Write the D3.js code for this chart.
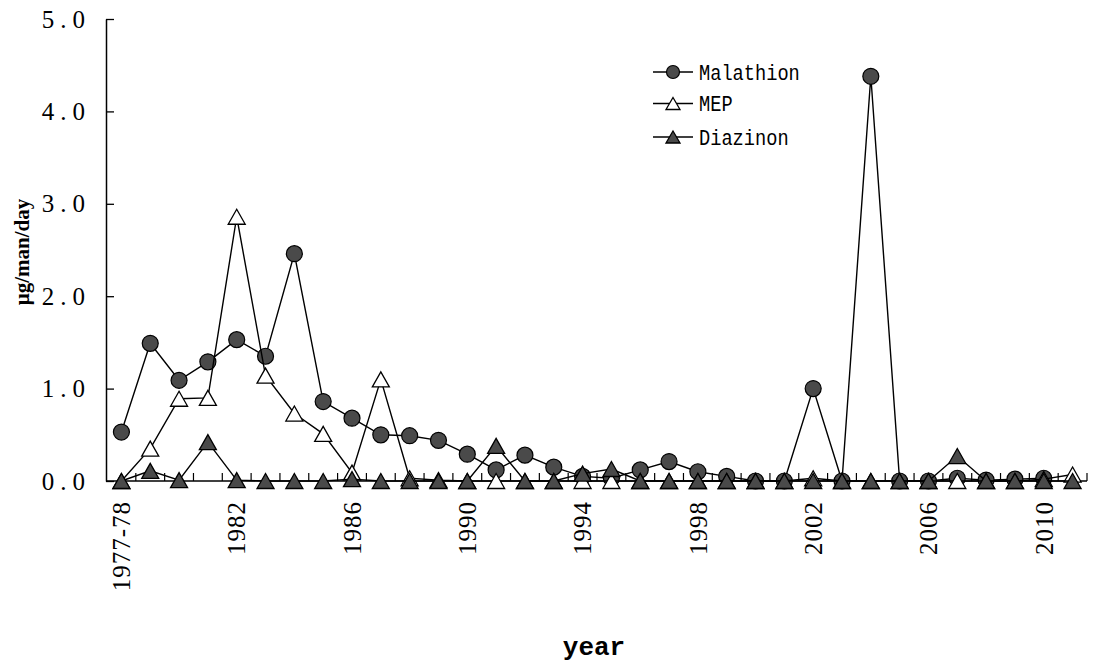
<!DOCTYPE html>
<html>
<head>
<meta charset="utf-8">
<script src="https://cdn.jsdelivr.net/npm/d3@7"></script>
<style>
  html, body { margin: 0; padding: 0; background: #fff; }
  svg { display: block; }
</style>
</head>
<body>
<svg id="chart" width="1095" height="666"></svg>
<script>
// ---- data ----
const categories = ["1977-78","1979","1980","1981","1982","1983","1984","1985","1986","1987",
  "1988","1989","1990","1991","1992","1993","1994","1995","1996","1997","1998","1999","2000",
  "2001","2002","2003","2004","2005","2006","2007","2008","2009","2010","2011"];
const tickLabels = ["1977-78","1982","1986","1990","1994","1998","2002","2006","2010"];
const yTicks = [0, 1, 2, 3, 4, 5];
const malathion = [0.53,1.49,1.09,1.29,1.53,1.35,2.46,0.86,0.68,0.50,0.49,0.44,0.29,0.12,0.28,0.15,
  0.05,0.03,0.12,0.21,0.10,0.05,0.0,0.0,1.0,0.0,4.38,0.0,0.0,0.03,0.01,0.02,0.03,null];
const mep = [0.0,0.35,0.89,0.90,2.86,1.14,0.73,0.51,0.09,1.10,0.03,0.01,0.0,0.0,0.0,0.0,
  0.0,0.0,0.0,0.0,0.0,0.0,0.0,0.0,0.03,0.0,0.0,0.0,0.0,0.0,0.0,0.0,0.02,0.07];
const diazinon = [0.0,0.11,0.01,0.42,0.01,0.0,0.0,0.0,0.02,0.0,0.0,0.0,0.0,0.38,0.0,0.0,
  0.08,0.13,0.0,0.0,0.0,0.0,0.0,0.0,0.0,0.0,0.0,0.0,0.0,0.27,0.0,0.0,0.0,0.0];
const seriesNames = ["Malathion","MEP","Diazinon"];

// ---- chart ----
const svg = d3.select("#chart");
svg.append("rect").attr("width",1095).attr("height",666).attr("fill","#fff");

const x = d3.scaleBand().domain(categories).range([107, 1087]);
const y = d3.scaleLinear().domain([0, 5]).range([481, 19]);
const cx = d => x(d) + x.bandwidth() / 2;

const darkFill = "#4a4a4a";

// y axis
const yAxis = svg.append("g").attr("transform", "translate(106,0)")
  .call(d3.axisLeft(y).tickValues(yTicks).tickSizeInner(-8).tickSizeOuter(0)
    .tickPadding(15).tickFormat(d3.format(".1f")));
yAxis.select(".domain").attr("stroke", "#000").attr("stroke-width", 1.5);
yAxis.selectAll(".tick line").attr("stroke", "#000").attr("stroke-width", 1.3);
yAxis.selectAll(".tick text")
  .attr("font-family", "'Liberation Serif', serif").attr("font-size", 25)
  .attr("letter-spacing", "6px").attr("fill", "#000");

// x axis line + boundary ticks
svg.append("line").attr("x1", 106).attr("x2", 1087).attr("y1", 481).attr("y2", 481)
  .attr("stroke", "#000").attr("stroke-width", 1.5);
const bounds = categories.map(c => x(c)).concat([x(categories[categories.length - 1]) + x.bandwidth()]);
svg.append("g").selectAll("line").data(bounds.slice(1)).join("line")
  .attr("x1", d => d).attr("x2", d => d).attr("y1", 481).attr("y2", 473)
  .attr("stroke", "#000").attr("stroke-width", 1.2);

// x tick labels
const xAxis = svg.append("g").attr("transform", "translate(0,481)")
  .call(d3.axisBottom(x).tickValues(tickLabels).tickSize(0));
xAxis.select(".domain").remove();
xAxis.selectAll(".tick text")
  .attr("transform", "rotate(-90)")
  .attr("x", -20).attr("y", 0).attr("dy", "0.35em")
  .style("text-anchor", "end")
  .attr("font-family", "'Liberation Serif', serif").attr("font-size", 25)
  .attr("letter-spacing", "1px").attr("fill", "#000");

// markers
function triPath(w, h) {
  return `M0,${-h/2}L${w/2},${h/2}L${-w/2},${h/2}Z`;
}
function drawSeries(vals, kind) {
  const pts = vals.map((v, i) => ({c: categories[i], v})).filter(p => p.v !== null);
  const line = d3.line().x(p => cx(p.c)).y(p => y(p.v));
  svg.append("path").datum(pts).attr("d", line)
    .attr("fill", "none").attr("stroke", "#000").attr("stroke-width", 1.4);
  const g = svg.append("g");
  if (kind === "circle") {
    g.selectAll("circle").data(pts).join("circle")
      .attr("cx", p => cx(p.c)).attr("cy", p => y(p.v)).attr("r", 8)
      .attr("fill", darkFill).attr("stroke", "#000").attr("stroke-width", 1.2);
  } else {
    g.selectAll("path").data(pts).join("path")
      .attr("d", triPath(17, 15))
      .attr("transform", p => `translate(${cx(p.c)},${y(p.v)})`)
      .attr("fill", kind === "open" ? "#fff" : darkFill)
      .attr("stroke", "#000").attr("stroke-width", 1.3).attr("stroke-linejoin", "miter");
  }
}
drawSeries(malathion, "circle");
drawSeries(mep, "open");
drawSeries(diazinon, "filled");

// legend
const legendKinds = ["circle", "open", "filled"];
const legendY = [72, 103.5, 137];
const lg = svg.append("g");
seriesNames.forEach((name, i) => {
  const ly = legendY[i];
  lg.append("line").attr("x1", 653).attr("x2", 693).attr("y1", ly).attr("y2", ly)
    .attr("stroke", "#000").attr("stroke-width", 1.4);
  if (legendKinds[i] === "circle") {
    lg.append("circle").attr("cx", 673).attr("cy", ly).attr("r", 6.5)
      .attr("fill", darkFill).attr("stroke", "#000").attr("stroke-width", 1.2);
  } else {
    lg.append("path").attr("d", triPath(14, 12)).attr("transform", `translate(673,${ly})`)
      .attr("fill", legendKinds[i] === "open" ? "#fff" : darkFill)
      .attr("stroke", "#000").attr("stroke-width", 1.3);
  }
  lg.append("text").attr("x", 699).attr("y", ly).attr("dy", "0.36em")
    .attr("font-family", "'Liberation Mono', monospace").attr("font-size", 22)
    .attr("textLength", name.length * 11.2).attr("lengthAdjust", "spacingAndGlyphs")
    .attr("fill", "#000").text(name);
});

// axis titles
svg.append("text").attr("transform", "translate(22,252) rotate(-90)")
  .attr("text-anchor", "middle").attr("dy", "0.35em")
  .attr("font-family", "'Liberation Serif', serif").attr("font-size", 21).attr("font-weight", "bold")
  .attr("fill", "#000").text("μg/man/day");
svg.append("text").attr("x", 594).attr("y", 655).attr("text-anchor", "middle")
  .attr("font-family", "'Liberation Mono', monospace").attr("font-size", 26).attr("font-weight", "bold")
  .attr("fill", "#000").text("year");
</script>
</body>
</html>
